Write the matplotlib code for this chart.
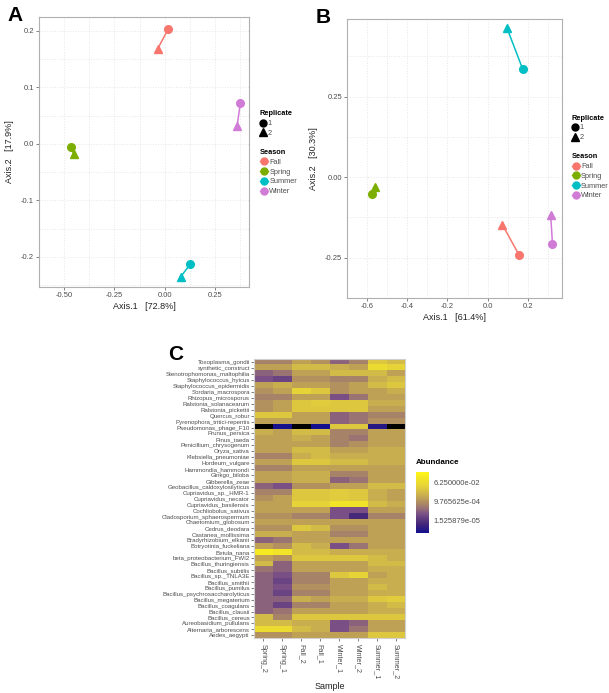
# ------------------------------------------------------------------------------
# Description:  PCoA ordinations (A, B) and abundance heatmap (C) on one figure
# ------------------------------------------------------------------------------

import matplotlib.pyplot as plt
import matplotlib as mpl
from matplotlib.colors import LinearSegmentedColormap, LogNorm
from matplotlib.lines import Line2D
import numpy as np

# ----------------------------------------------------------------------
# Data
# ----------------------------------------------------------------------

seasons = ["Fall", "Spring", "Summer", "Winter"]
season_colors = ["#F8766D", "#7CAE00", "#00BFC4", "#D07BD6"]

# Panel A  (Axis.1 72.8 %, Axis.2 17.9 %)
a_x_rep1 = [0.018, -0.465, 0.127, 0.377]
a_y_rep1 = [0.203, -0.005, -0.213, 0.073]
a_x_rep2 = [-0.035, -0.453, 0.080, 0.360]
a_y_rep2 = [0.168, -0.018, -0.235, 0.031]

# Panel B  (Axis.1 61.4 %, Axis.2 30.3 %)
b_x_rep1 = [0.157, -0.577, 0.175, 0.323]
b_y_rep1 = [-0.242, -0.052, 0.335, -0.206]
b_x_rep2 = [0.074, -0.559, 0.097, 0.314]
b_y_rep2 = [-0.148, -0.030, 0.462, -0.118]

# Panel C
samples = ["Spring_2", "Spring_1", "Fall_2", "Fall_1",
           "Winter_1", "Winter_2", "Summer_1", "Summer_2"]

taxa = ["Toxoplasma_gondii", "synthetic_construct", "Stenotrophomonas_maltophilia",
        "Staphylococcus_hyicus", "Staphylococcus_epidermidis", "Sordaria_macrospora",
        "Rhizopus_microsporus", "Ralstonia_solanacearum", "Ralstonia_pickettii",
        "Quercus_robur", "Pyrenophora_tritici-repentis", "Pseudomonas_phage_F10",
        "Prunus_persica", "Pinus_taeda", "Penicillium_chrysogenum", "Oryza_sativa",
        "Klebsiella_pneumoniae", "Hordeum_vulgare", "Hammondia_hammondi",
        "Ginkgo_biloba", "Gibberella_zeae", "Geobacillus_caldoxylosilyticus",
        "Cupriavidus_sp._HMR-1", "Cupriavidus_necator", "Cupriavidus_basilensis",
        "Cochliobolus_sativus", "Cladosporium_sphaerospermum", "Chaetomium_globosum",
        "Cedrus_deodara", "Castanea_mollissima", "Bradyrhizobium_elkanii",
        "Botryotinia_fuckeliana", "Betula_nana", "beta_proteobacterium_FWI2",
        "Bacillus_thuringiensis", "Bacillus_subtilis", "Bacillus_sp._TNLA3E",
        "Bacillus_smithii", "Bacillus_pumilus", "Bacillus_psychrosaccharolyticus",
        "Bacillus_megaterium", "Bacillus_coagulans", "Bacillus_clausii",
        "Bacillus_cereus", "Aureobasidium_pullulans", "Alternaria_arborescens",
        "Aedes_aegypti"]

# log4(abundance) per taxon and sample, None = zero abundance
log4_abundance = [
    [-5.5, -5.5, -4.5, -5.0, -6.5, -5.5, -3.0, -3.5],
    [-4.5, -4.5, -3.5, -3.5, -4.0, -4.5, -2.0, -2.5],
    [-6.5, -6.0, -4.5, -4.5, -3.5, -3.5, -3.5, -4.5],
    [-7.0, -7.5, -5.0, -5.0, -5.5, -5.5, -4.0, -3.5],
    [-4.5, -4.0, -4.5, -4.5, -5.0, -4.5, -3.5, -3.0],
    [-5.0, -4.5, -2.5, -3.0, -5.0, -4.5, -4.5, -4.0],
    [-5.5, -5.5, -4.5, -4.5, -7.0, -6.0, -4.5, -4.5],
    [-5.0, -4.5, -3.0, -2.8, -3.0, -3.0, -4.0, -4.0],
    [-5.0, -4.5, -3.0, -3.0, -3.0, -3.0, -4.5, -4.5],
    [-3.0, -3.0, -4.5, -4.5, -6.5, -6.0, -5.5, -5.5],
    [-4.5, -4.5, -4.5, -4.5, -6.5, -6.0, -5.0, -5.0],
    [None, -10.0, None, -10.0, -3.0, -3.0, -9.5, None],
    [-4.0, -4.5, -3.5, -3.5, -5.5, -5.5, -4.5, -4.5],
    [-4.5, -4.5, -4.0, -4.5, -5.5, -6.0, -4.5, -4.5],
    [-4.5, -4.5, -4.5, -4.5, -5.5, -5.0, -4.5, -4.5],
    [-4.5, -4.5, -3.5, -3.5, -4.5, -4.5, -4.0, -4.0],
    [-5.5, -5.5, -4.0, -3.5, -4.0, -4.0, -4.0, -4.0],
    [-4.5, -4.5, -3.0, -3.0, -3.5, -3.5, -4.0, -4.0],
    [-5.5, -5.5, -4.5, -4.5, -4.5, -4.5, -4.5, -4.5],
    [-4.5, -4.5, -4.0, -4.0, -5.5, -5.5, -4.5, -4.5],
    [-4.5, -4.5, -4.0, -4.0, -6.5, -6.0, -4.5, -4.5],
    [-6.5, -7.0, -5.0, -5.0, -4.5, -4.5, -3.5, -3.5],
    [-5.5, -5.5, -3.0, -3.0, -2.8, -3.0, -4.0, -4.5],
    [-5.0, -4.5, -3.0, -3.0, -2.8, -3.0, -4.0, -4.5],
    [-4.5, -4.5, -2.5, -2.5, -1.5, -1.5, -3.5, -4.0],
    [-4.5, -4.5, -4.5, -4.5, -7.0, -7.0, -4.5, -4.5],
    [-5.0, -5.0, -5.5, -5.5, -7.0, -8.5, -5.5, -5.5],
    [-4.5, -4.5, -4.5, -4.5, -4.5, -4.5, -4.5, -4.5],
    [-5.0, -5.0, -3.0, -3.5, -5.0, -5.0, -4.5, -4.5],
    [-4.0, -4.0, -4.5, -4.5, -5.5, -5.5, -4.5, -4.5],
    [-6.5, -6.0, -4.5, -4.5, -4.5, -4.5, -4.5, -4.5],
    [-4.5, -5.0, -3.5, -4.0, -7.0, -6.0, -4.5, -4.5],
    [-1.0, -1.5, -3.5, -3.5, -4.0, -4.0, -4.0, -4.0],
    [-4.5, -5.0, -3.0, -3.0, -3.0, -3.0, -3.5, -4.0],
    [-3.5, -6.5, -4.5, -4.5, -4.5, -4.5, -3.5, -3.5],
    [-6.0, -6.5, -4.5, -4.5, -4.5, -4.5, -4.0, -4.0],
    [-6.5, -7.0, -5.5, -5.5, -3.0, -2.5, -4.5, -4.0],
    [-6.5, -7.5, -5.5, -5.5, -4.5, -4.5, -4.0, -4.0],
    [-6.5, -7.0, -5.0, -5.0, -4.5, -4.5, -3.5, -4.0],
    [-6.5, -7.5, -5.5, -5.5, -4.5, -4.5, -4.0, -4.0],
    [-6.5, -6.5, -4.0, -4.5, -4.0, -4.0, -3.0, -2.8],
    [-6.5, -7.5, -5.5, -5.5, -4.5, -4.5, -4.0, -3.5],
    [-6.5, -6.0, -4.5, -4.5, -4.5, -4.5, -4.0, -4.0],
    [-3.5, -5.5, -3.0, -3.0, -3.0, -3.0, -3.0, -3.0],
    [-3.5, -3.5, -4.0, -4.0, -7.0, -6.5, -4.5, -4.5],
    [-2.0, -2.0, -3.5, -4.0, -7.0, -6.0, -4.5, -4.5],
    [-5.0, -5.0, -4.5, -4.5, -4.5, -4.5, -3.0, -3.0],
]

colorbar_ticks = [4.0 ** -2, 4.0 ** -5, 4.0 ** -8]

# ----------------------------------------------------------------------
# Style
# ----------------------------------------------------------------------

plt.rcParams['font.family'] = ['Liberation Sans', 'DejaVu Sans']
text_gray = "#4d4d4d"
border_gray = "#b0b0b0"
grid_gray = "#e6e6e6"

# ----------------------------------------------------------------------
# Functions
# ----------------------------------------------------------------------


def ordination(fig, rect, x1, y1, x2, y2, xlim, ylim, xticks, yticks,
               xfmt, yfmt, xlabel, ylabel, letter, legend_xy):
    ax = fig.add_axes(rect)
    ax.set_xlim(xlim)
    ax.set_ylim(ylim)

    # grid at major and minor positions
    ax.set_xticks(xticks)
    ax.set_yticks(yticks)
    ax.set_xticklabels([xfmt % t for t in xticks])
    ax.set_yticklabels([yfmt % t for t in yticks])
    dx = (xticks[1] - xticks[0]) / 2
    dy = (yticks[1] - yticks[0]) / 2
    ax.set_xticks(np.arange(xticks[0] - dx, xlim[1], dx * 2), minor=True)
    ax.set_yticks(np.arange(yticks[0] - dy, ylim[1], dy * 2), minor=True)
    ax.grid(True, which='both', color=grid_gray, linestyle=':', linewidth=0.7)
    ax.set_axisbelow(True)
    ax.tick_params(which='minor', length=0)
    ax.tick_params(which='major', labelsize=5.5, length=2, width=0.5,
                   color=text_gray, labelcolor=text_gray, pad=1.5)
    for s in ax.spines.values():
        s.set_color(border_gray)
        s.set_linewidth(0.8)

    for i, c in enumerate(season_colors):
        ax.plot([x1[i], x2[i]], [y1[i], y2[i]], color=c, linewidth=1.1, zorder=2)
        ax.plot(x1[i], y1[i], marker='o', markersize=5.5, color=c,
                markeredgecolor=c, linestyle='None', zorder=3)
        ax.plot(x2[i], y2[i], marker='^', markersize=6, color=c,
                markeredgecolor=c, linestyle='None', zorder=3)

    ax.set_xlabel(xlabel, fontsize=6.5, color="#222222", labelpad=2)
    ax.set_ylabel(ylabel, fontsize=6.5, color="#222222", labelpad=5)
    fig.text(rect[0] - 0.052, rect[1] + rect[3] + 0.002, letter,
             fontsize=15, fontweight='bold', va='center', ha='left')

    # legends
    rep_handles = [Line2D([], [], marker='o', color='black', linestyle='None', markersize=5),
                   Line2D([], [], marker='^', color='black', linestyle='None', markersize=5.5)]
    leg1 = ax.legend(rep_handles, ["1", "2"], title="Replicate",
                     loc='upper left', bbox_to_anchor=legend_xy,
                     bbox_transform=fig.transFigure, frameon=False,
                     fontsize=5.3, title_fontsize=5.3, handlelength=0.9,
                     handletextpad=0.2, labelspacing=0.35, borderpad=0.2)
    leg1.get_title().set_fontweight('bold')
    leg1._legend_box.align = "left"
    ax.add_artist(leg1)

    season_handles = [Line2D([], [], marker='o', color=c, markersize=5, linewidth=1.0)
                      for c in season_colors]
    leg2 = ax.legend(season_handles, seasons, title="Season",
                     loc='upper left',
                     bbox_to_anchor=(legend_xy[0], legend_xy[1] - 0.056),
                     bbox_transform=fig.transFigure, frameon=False,
                     fontsize=5.3, title_fontsize=5.3, handlelength=1.1,
                     handletextpad=0.2, labelspacing=0.35, borderpad=0.2)
    leg2.get_title().set_fontweight('bold')
    leg2._legend_box.align = "left"
    for t in leg1.get_texts() + leg2.get_texts():
        t.set_color(text_gray)
    return ax


def heatmap(fig):
    values = np.array([[np.nan if v is None else 4.0 ** v for v in row]
                       for row in log4_abundance])
    values = np.ma.masked_invalid(values)

    cmap = LinearSegmentedColormap.from_list("abund", [
        (0.00, "#14108c"),
        (0.15, "#45287a"),
        (0.31, "#7a5086"),
        (0.41, "#9a7474"),
        (0.51, "#b28f60"),
        (0.57, "#c0a256"),
        (0.67, "#d3bb48"),
        (0.77, "#e6d338"),
        (0.92, "#f5ea22"),
        (1.00, "#fff71a")])
    cmap.set_bad("black")
    norm = LogNorm(vmin=4.0 ** -10.05, vmax=4.0 ** -0.26)

    ax = fig.add_axes([0.417, 0.079, 0.248, 0.4026])
    im = ax.imshow(values, cmap=cmap, norm=norm, aspect='auto',
                   interpolation='nearest')
    ax.set_xticks(range(len(samples)))
    ax.set_xticklabels(samples, rotation=-90, fontsize=5.2, color=text_gray)
    ax.set_yticks(range(len(taxa)))
    ax.set_yticklabels(taxa, fontsize=4.4, color=text_gray)
    ax.tick_params(length=2, width=0.5, color=text_gray, pad=1)
    ax.tick_params(axis='x', pad=2)
    for s in ax.spines.values():
        s.set_color("#d0d0d0")
        s.set_linewidth(0.8)
    ax.set_xlabel("Sample", fontsize=6.5, color="#222222", labelpad=2)
    fig.text(0.276, 0.488, "C", fontsize=15, fontweight='bold', va='center', ha='left')

    cax = fig.add_axes([0.683, 0.231, 0.021, 0.088])
    cb = fig.colorbar(im, cax=cax)
    cb.set_ticks(colorbar_ticks)
    cb.set_ticklabels(["%.6e" % t for t in colorbar_ticks])
    cb.ax.minorticks_off()
    cb.ax.tick_params(labelsize=5.5, length=2, width=0.5, color='white',
                      labelcolor=text_gray, pad=1.5)
    cb.outline.set_visible(False)
    fig.text(0.683, 0.328, "Abundance", fontsize=5.8, fontweight='bold',
             va='bottom', ha='left')


def main():
    fig = plt.figure(figsize=(6.09, 6.93), dpi=100)

    ordination(fig, [0.064, 0.586, 0.345, 0.390],
               a_x_rep1, a_y_rep1, a_x_rep2, a_y_rep2,
               xlim=(-0.502, 0.42), ylim=(-0.253, 0.225),
               xticks=[-0.5, -0.25, 0.0, 0.25], yticks=[-0.2, -0.1, 0.0, 0.1, 0.2],
               xfmt="%.2f", yfmt="%.1f",
               xlabel="Axis.1   [72.8%]", ylabel="Axis.2   [17.9%]",
               letter="A", legend_xy=(0.418, 0.848))

    ordination(fig, [0.570, 0.570, 0.353, 0.403],
               b_x_rep1, b_y_rep1, b_x_rep2, b_y_rep2,
               xlim=(-0.623, 0.371), ylim=(-0.275, 0.492),
               xticks=[-0.6, -0.4, -0.2, 0.0, 0.2], yticks=[-0.25, 0.0, 0.25],
               xfmt="%.1f", yfmt="%.2f",
               xlabel="Axis.1   [61.4%]", ylabel="Axis.2   [30.3%]",
               letter="B", legend_xy=(0.930, 0.842))

    heatmap(fig)

    fig.savefig("out.png", dpi=100)
    plt.close(fig)


if __name__ == "__main__":
    main()
